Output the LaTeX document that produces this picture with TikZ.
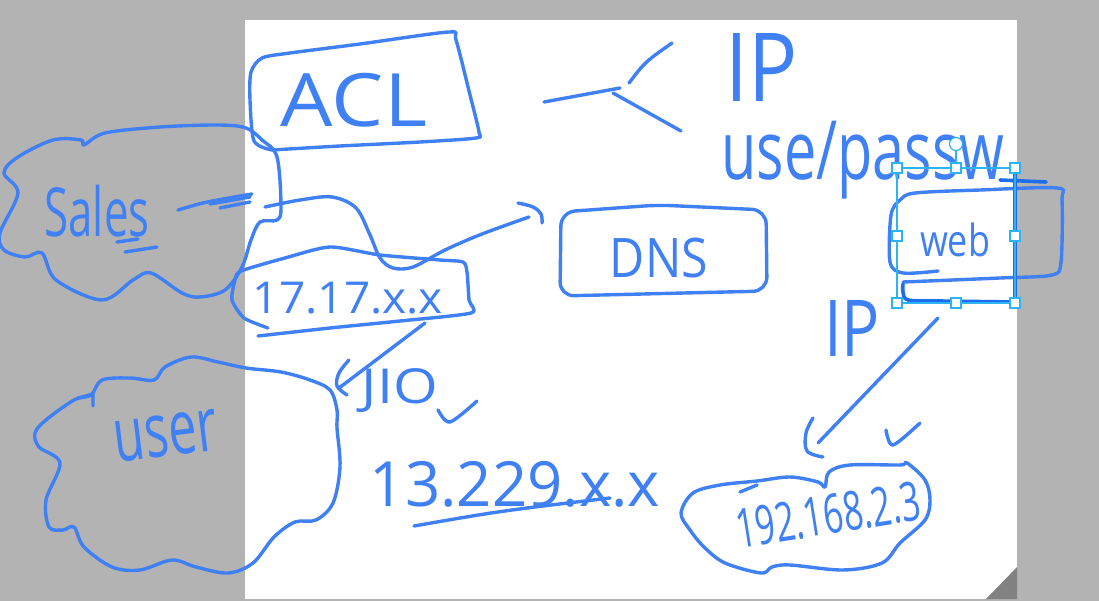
\documentclass[tikz,border=0pt]{standalone}
\usepackage{fontspec}
\setmainfont{Open Sans}
\usepackage{graphicx}
\definecolor{ink}{RGB}{64,128,245}
\definecolor{inkdark}{RGB}{28,110,238}
\definecolor{sel}{RGB}{45,180,246}
\definecolor{bg}{RGB}{179,179,179}
\definecolor{fold}{RGB}{130,130,130}
\newcommand{\hw}[3]{\resizebox*{#1pt}{#2pt}{#3}}
\tikzset{
  pen/.style={draw=ink, line width=3.4pt, line cap=round, line join=round},
  pendark/.style={draw=inkdark, line width=3.6pt, line cap=round, line join=round},
  txt/.style={text=ink, inner sep=0pt, outer sep=0pt},
  selbox/.style={draw=sel, line width=1.2pt},
  handle/.style={draw=sel, fill=white, line width=1.2pt, minimum size=10pt, inner sep=0pt, outer sep=0pt, rectangle}
}
\begin{document}
\begin{tikzpicture}[x=1pt,y=-1pt]
\useasboundingbox (0,0) rectangle (1099,601);
% background and page
\fill[bg] (0,0) rectangle (1099,601);
\fill[white] (245,20) rectangle (1017,599);
\fill[fold] (986,599) -- (1017,567) -- (1017,599) -- cycle;

% ---------- ACL box ----------
\draw[pen] plot[smooth, tension=0.45] coordinates {(272,150)(254,141)(250,100)(251,72)(262,58)(290,53)(360,44)(449,32)(456,40)(470,95)(479,132)(476,138)(420,142)(340,146)(272,150)};
\node[txt] (acl) at (354,100) {\hw{146}{54}{ACL}};

% ---------- Sales cloud ----------
\draw[pen] plot[smooth cycle, tension=0.55] coordinates {(84,145)(105,133)(160,127)(218,125)(246,128)(262,140)(277,157)(281,207)(277,220)(260,222)(251,240)(242,267)(225,290)(200,297)(182,293)(151,273)(133,280)(102,300)(56,280)(42,253)(25,257)(4,250)(0,233)(18,193)(4,173)(18,157)(53,140)(81,140)};
\node[txt] (sales) at (97,211) {\hw{105}{52}{Sales}};
\draw[pen] (117,242) -- (138,239);
\draw[pen] (125,252) -- (157,247);
\coordinate (salesout) at (178,210);
\coordinate (salesarr) at (252,194);
\draw[pen] (salesout) .. controls (205,202) .. (salesarr);
\draw[pen] (210,204) -- (250,197);
\draw[pen] (220,208) -- (250,202);

% ---------- 17.17.x.x box ----------
\draw[pen] plot[smooth, tension=0.4] coordinates {(268,328)(244,318)(232,300)(235,280)(241,271)(285,258)(330,247)(380,255)(440,260)(463,262)(467,272)(469,300)(471,313)(400,321)(330,328)(258,336)};
\node[txt] (ip17) at (348,298) {\hw{190}{32}{17.17.x.x}};

% ---------- DNS box ----------
\draw[pen, rounded corners=14pt] (561,212) -- (658,205) -- (766,210) -- (767,291) -- (560,296) -- cycle;
\node[txt] (dns) at (659,258) {\hw{98}{40}{DNS}};

% Sales -> DNS connector (looped)
\coordinate (loopstart) at (265,207);
\coordinate (dnsin) at (529,217);
\draw[pen] plot[smooth, tension=0.55] coordinates {(loopstart)(300,200)(332,197)(356,208)(370,235)(380,258)(393,268)(413,267)(445,250)(482,234)(dnsin)};
\draw[pen] plot[smooth, tension=0.6] coordinates {(518,203)(533,207)(541,214)(542,223)};

% ---------- fork to IP / user/pass ----------
\coordinate (forkin) at (544,102);
\coordinate (forkmid) at (620,88);
\coordinate (forkup) at (672,43);
\coordinate (forkdown) at (681,131);
\draw[pen] (forkin) -- (forkmid);
\draw[pen] (629,83) .. controls (645,62) .. (forkup);
\draw[pen] (613,93) -- (forkdown);
\node[txt] (iptop) at (762,67) {\hw{72}{68}{IP}};
\node[txt] (userpass) at (863,160) {\hw{283}{78}{use/passw}};

% ---------- web box ----------
\draw[pen] plot[smooth, tension=0.5] coordinates {(938,271)(903,273)(890,262)(891,215)(900,200)(915,193)(980,190)(1057,188)(1062,200)(1061,262)(1052,275)(1000,278)(903,282)};
\draw[pendark] (1000,180) -- (1046,182);
\draw[pendark] (1015,172) -- (1015,302);
\draw[pendark] plot[smooth, tension=0.5] coordinates {(1015,302)(940,301)(908,300)(903,292)(903,284)};
\node[txt] (web) at (955,240) {\hw{70}{34}{web}};
% selection frame
\draw[selbox] (897,168) rectangle (1015,303);
\draw[selbox] (956,168) -- (956,150);
\draw[selbox, fill=white] (956,144) circle (6.5pt);
\foreach \p/\n in {{897,168}/h1,{956,168}/h2,{1015,168}/h3,{897,236}/h4,{1015,236}/h5,{897,303}/h6,{956,303}/h7,{1015,303}/h8}
  \node[handle] (\n) at (\p) {};
\node[txt] (ipweb) at (852,328) {\hw{56}{56}{IP}};

% web -> 192 arrow
\coordinate (webout) at (938,318);
\coordinate (lanin) at (818,443);
\draw[pen] (webout) -- (lanin);
\draw[pen] plot[smooth, tension=0.6] coordinates {(813,418)(806,433)(807,451)(823,457)};
\draw[pen] plot[smooth, tension=0.5] coordinates {(886,430)(893,445)(920,423)};

% ---------- 192 cloud ----------
\draw[pen] plot[smooth cycle, tension=0.55] coordinates {(681,513)(693,493)(720,485)(757,481)(790,477)(818,482)(825,487)(829,472)(850,465)(900,465)(907,463)(925,480)(930,500)(925,520)(900,543)(882,563)(843,570)(790,565)(772,567)(761,573)(725,563)(704,547)(690,530)};
\draw[pen] (740,492) -- (757,485);
\node[txt, rotate=9] (ip192) at (828,515) {\hw{186}{40}{192.168.2.3}};

% ---------- 17 -> user arrow ----------
\coordinate (ip17out) at (425,323);
\coordinate (userin) at (339,388);
\draw[pen] (ip17out) -- (userin);
\draw[pen] plot[smooth, tension=0.6] coordinates {(349,360)(339,373)(337,386)(347,395)};

% ---------- user cloud ----------
\draw[pen] plot[smooth cycle, tension=0.55] coordinates {(91,395)(102,380)(130,378)(154,380)(165,367)(191,357)(218,362)(246,368)(281,372)(310,380)(330,390)(337,410)(337,428)(340,467)(333,503)(316,520)(295,522)(274,537)(253,563)(228,573)(196,567)(172,560)(140,570)(112,567)(84,547)(74,527)(63,530)(49,527)(46,500)(60,463)(39,447)(35,433)(46,420)(74,400)};
\draw[pen] (78,398) -- (93,394) -- (93,406);
\node[txt, rotate=7] (user) at (166,436) {\hw{104}{42}{user}};

% ---------- JIO / 13.229.x.x ----------
\node[txt] (jio) at (400,391) {\hw{76}{44}{JIO}};
\draw[pen] plot[smooth, tension=0.5] coordinates {(438,410)(450,422)(477,401)};
\node[txt] (ip13) at (515,484) {\hw{290}{46}{13.229.x.x}};
\coordinate (ul1) at (414,526);
\coordinate (ul2) at (610,498);
\draw[pen] (ul1) .. controls (500,511) .. (ul2);
\end{tikzpicture}
\end{document}
